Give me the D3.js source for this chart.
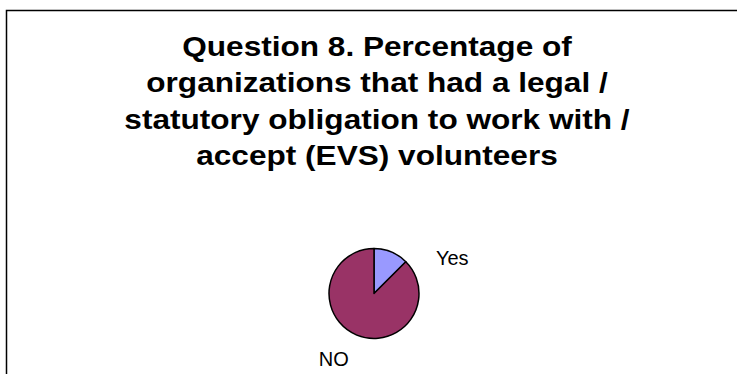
<!DOCTYPE html>
<html>
<head>
<meta charset="utf-8">
<script src="https://cdn.jsdelivr.net/npm/d3@7"></script>
<style>
  html, body { margin: 0; padding: 0; background: #fff; overflow: hidden; }
  svg { display: block; overflow: hidden; }
</style>
</head>
<body>
<script>
// Survey answers (share of organizations, %)
const categories = ["Yes", "NO"];
const values = [12.5, 87.5];
const colors = ["#9999FF", "#993366"];
const titleLines = [
  "Question 8. Percentage of",
  "organizations that had a legal /",
  "statutory obligation to work with /",
  "accept (EVS) volunteers"
];

const W = 737, H = 374;
const svg = d3.select("body").append("svg")
  .attr("width", W).attr("height", H);

// chart area frame: only its top and left edges fall inside the view
svg.append("path")
  .attr("d", `M6.5,${H + 5}V10.5H${W + 5}`)
  .attr("fill", "none")
  .attr("stroke", "#000")
  .attr("stroke-width", 1.5);

// title
const titleCx = 377;
const title = svg.append("g")
  .attr("transform", `translate(${titleCx},0) scale(1.17,1)`);
title.selectAll("text")
  .data(titleLines)
  .join("text")
  .attr("x", 0)
  .attr("y", (d, i) => 56 + i * 36.5)
  .attr("text-anchor", "middle")
  .attr("font-family", "Liberation Sans, Arial, sans-serif")
  .attr("font-weight", "bold")
  .attr("font-size", 27)
  .attr("fill", "#000")
  .text(d => d);

// pie
const cx = 374, cy = 293.5, r = 45;
const pie = d3.pie().sort(null).value(d => d)(values);
const arc = d3.arc().innerRadius(0).outerRadius(r);
const g = svg.append("g").attr("transform", `translate(${cx},${cy})`);
g.selectAll("path")
  .data(pie)
  .join("path")
  .attr("d", arc)
  .attr("fill", (d, i) => colors[i])
  .attr("stroke", "#000")
  .attr("stroke-width", 1.5)
  .attr("stroke-linejoin", "round");

// category labels placed outside the pie, nudged from each slice's mid-angle
const labelArc = d3.arc().innerRadius(r + 34).outerRadius(r + 34);
const labelOffsets = [[48, 37], [-10, -7]];
g.selectAll("text.lbl")
  .data(pie)
  .join("text")
  .attr("class", "lbl")
  .attr("transform", (d, i) => {
    const [x, y] = labelArc.centroid(d);
    return `translate(${x + labelOffsets[i][0]},${y + labelOffsets[i][1]})`;
  })
  .attr("text-anchor", "middle")
  .attr("dominant-baseline", "central")
  .attr("font-family", "Liberation Sans, Arial, sans-serif")
  .attr("font-size", 20)
  .attr("fill", "#000")
  .text((d, i) => categories[i]);
</script>
</body>
</html>
